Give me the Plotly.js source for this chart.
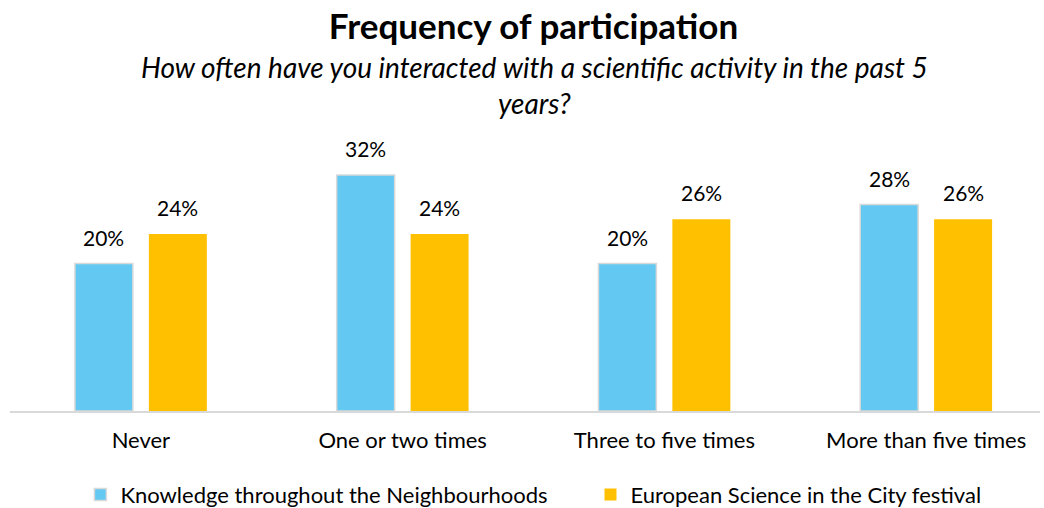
<!DOCTYPE html>
<html>
<head>
<meta charset="utf-8">
<script src="https://cdn.plot.ly/plotly-3.0.1.min.js"></script>
<style>html,body{margin:0;padding:0;background:#fff;}#chart{width:1044px;height:508px;}</style>
</head>
<body>
<div id="chart"></div>
<script>
const categories = ["Never", "One or two times", "Three to five times", "More than five times"];
const seriesNames = ["Knowledge throughout the Neighbourhoods", "European Science in the City festival"];
const knowledgeValues = [20, 32, 20, 28];
const festivalValues = [24, 24, 26, 26];
const titleText = "Frequency of participation";
const subtitleLines = ["How often have you interacted with a scientific activity in the past 5", "years?"];

const FONT = "Lato, 'Open Sans', sans-serif";
const colors = ["#63C8F2", "#FFC000"];

const traces = [
  {type: "bar", name: seriesNames[0], x: categories, y: knowledgeValues, legend: "legend",
   marker: {color: colors[0], line: {color: "#D9D9D9", width: 1.5}}, hoverinfo: "skip"},
  {type: "bar", name: seriesNames[1], x: categories, y: festivalValues, legend: "legend2",
   marker: {color: colors[1], line: {color: "#FFC000", width: 0}}, hoverinfo: "skip"}
];

const annotations = [];
[knowledgeValues, festivalValues].forEach((vals, si) => {
  vals.forEach((v, i) => {
    annotations.push({x: categories[i], y: v, xref: "x", yref: "y", text: v + "%",
      showarrow: false, xshift: si === 0 ? -37 : 37, yanchor: "bottom", yshift: 12,
      font: {family: FONT, size: 21, color: "#000"}});
  });
});
annotations.push({xref: "paper", yref: "paper", x: 0.5097, xanchor: "center",
  y: 1, yanchor: "middle", yshift: 68, align: "center",
  text: "<i>" + subtitleLines.join("<br>") + "</i>", showarrow: false,
  font: {family: FONT, size: 28, color: "#000"}});

const legendBase = {orientation: "h", xref: "container", yref: "container", xanchor: "left",
  y: 0.026, yanchor: "middle", font: {family: FONT, size: 22, color: "#000"}, itemwidth: 30,
  bgcolor: "rgba(0,0,0,0)"};

const layout = {
  width: 1044, height: 508,
  margin: {l: 10, r: 4, t: 153, b: 97},
  paper_bgcolor: "#fff", plot_bgcolor: "#fff",
  title: {text: "<b>" + titleText + "</b>", x: 0.511, xanchor: "center", y: 0.947, yanchor: "middle",
    font: {family: FONT, size: 35, color: "#000"}},
  barmode: "group", bargap: 0.435, bargroupgap: 0.216,
  xaxis: {range: [-0.5, 3.435], showline: true, linecolor: "#D9D9D9", linewidth: 2, automargin: false,
    ticks: "", showgrid: false, zeroline: false, ticklabelstandoff: 9,
    tickfont: {family: FONT, size: 22, color: "#000"}, fixedrange: true},
  yaxis: {range: [0, 35], visible: false, showgrid: false, zeroline: false, fixedrange: true, automargin: false},
  showlegend: true,
  legend: Object.assign({}, legendBase, {x: 0.077}),
  legend2: Object.assign({}, legendBase, {x: 0.5656}),
  annotations: annotations,
  font: {family: FONT}
};

Plotly.newPlot("chart", traces, layout, {displayModeBar: false, staticPlot: true});
</script>
</body>
</html>
